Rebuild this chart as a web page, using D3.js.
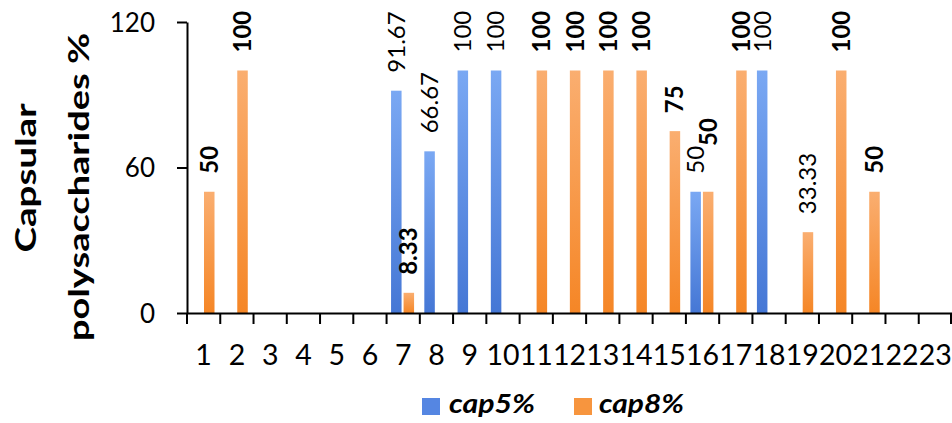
<!DOCTYPE html>
<html>
<head>
<meta charset="utf-8">
<script src="https://cdn.jsdelivr.net/npm/d3@7"></script>
<style>
  html, body { margin: 0; padding: 0; background: #fff; }
  svg { display: block; }
</style>
</head>
<body>
<svg id="chart" width="952" height="423"></svg>
<script>
// ---- data ----
const categories = ["1","2","3","4","5","6","7","8","9","10","11","12",
                    "13","14","15","16","17","18","19","20","21","22","23"];
const seriesNames = ["cap5%", "cap8%"];
const cap5 = [null, null, null, null, null, null, 91.67, 66.67, 100, 100, null, null,
              null, null, null, 50, null, 100, null, null, null, null, null];
const cap8 = [50, 100, null, null, null, null, 8.33, null, null, null, 100, 100,
              100, 100, 75, 50, 100, null, 33.33, 100, 50, null, null];
const yTicks = [0, 60, 120];
const yTitleLines = ["Capsular", "polysaccharides %"];

// ---- layout ----
const W = 952, H = 423;
const FONT = "Lato, 'Open Sans', sans-serif";
const svg = d3.select("#chart");

const x0 = d3.scaleBand().domain(categories).range([187, 952]).padding(0);
const bw = x0.bandwidth();
const x1 = d3.scaleBand().domain(seriesNames)
  .range([bw * 0.135, bw * 0.827]).paddingInner(0.16);
const y = d3.scaleLinear().domain([0, 120]).range([313, 22]);

// vertical gradient fills for the two series
const defs = svg.append("defs");
function addGradient(id, top, bottom) {
  const g = defs.append("linearGradient").attr("id", id)
    .attr("x1", 0).attr("y1", 0).attr("x2", 0).attr("y2", 1);
  g.append("stop").attr("offset", "0%").attr("stop-color", top);
  g.append("stop").attr("offset", "100%").attr("stop-color", bottom);
}
addGradient("fill-cap5", "#7AA8F3", "#4577D5");
addGradient("fill-cap8", "#FAAE70", "#F58626");
const fills = { "cap5%": "url(#fill-cap5)", "cap8%": "url(#fill-cap8)" };
const swatch = { "cap5%": "#5586E2", "cap8%": "#F7953E" };

const rows = categories.map((c, i) => ({
  cat: c,
  values: [
    { key: "cap5%", v: cap5[i], cat: c, idx: i },
    { key: "cap8%", v: cap8[i], cat: c, idx: i }
  ].filter(d => d.v !== null)
}));
const bars = rows.flatMap(r => r.values);

// ---- bars ----
svg.append("g").selectAll("rect").data(bars).join("rect")
  .attr("x", d => x0(d.cat) + x1(d.key))
  .attr("y", d => y(d.v))
  .attr("width", x1.bandwidth())
  .attr("height", d => y(0) - y(d.v))
  .attr("fill", d => fills[d.key]);

// ---- axes ----
const yAxis = svg.append("g").attr("transform", `translate(${x0.range()[0]},0)`)
  .call(d3.axisLeft(y).tickValues(yTicks).tickSize(10).tickSizeOuter(0).tickPadding(22));
yAxis.select(".domain").attr("stroke", "#000").attr("stroke-width", 2);
yAxis.selectAll(".tick line").attr("stroke", "#000").attr("stroke-width", 2);
yAxis.selectAll(".tick text")
  .attr("font-family", FONT).attr("font-size", 26).attr("fill", "#000")
  .attr("dy", "0.36em");

const xAxis = svg.append("g").attr("transform", `translate(0,${y(0)})`)
  .call(d3.axisBottom(x0).tickSize(0).tickSizeOuter(0).tickPadding(32));
xAxis.select(".domain").attr("stroke", "#000").attr("stroke-width", 2);
xAxis.selectAll(".tick text")
  .attr("font-family", FONT).attr("font-size", 28.5).attr("fill", "#000");

// tick marks on category boundaries
const bounds = categories.map(c => x0(c)).concat([Math.min(x0.range()[1], W - 1)]);
svg.append("g").selectAll("line").data(bounds).join("line")
  .attr("x1", d => d).attr("x2", d => d)
  .attr("y1", y(0)).attr("y2", y(0) + 11)
  .attr("stroke", "#000").attr("stroke-width", 2);

// ---- value labels ----
const LABEL_GAP = 18;
const LABEL_SIZE = 24;
const lightCap8 = new Set([33.33]);
const labels = svg.append("g").selectAll("text").data(bars).join("text")
  .attr("font-family", FONT).attr("font-size", LABEL_SIZE).attr("fill", "#000")
  .attr("font-weight", d => d.key === "cap8%" && !lightCap8.has(d.v) ? 700 : 400)
  .attr("dy", "0.35em")
  .text(d => String(d.v));

// place labels above bars, stacking any that would collide
const placed = [];
labels.each(function (d) {
  const cx = x0(d.cat) + x1(d.key) + x1.bandwidth() / 2;
  const len = this.getComputedTextLength();
  let start = y(d.v) - LABEL_GAP;
  let moved = true;
  while (moved) {
    moved = false;
    for (const p of placed) {
      const hOverlap = Math.abs(cx - p.cx) < 16;
      const vOverlap = start > p.start - p.len && start - len < p.start;
      if (hOverlap && vOverlap) { start = p.start - p.len; moved = true; }
    }
  }
  placed.push({ cx, start, len });
  d3.select(this).attr("transform", `translate(${cx},${start}) rotate(-90)`);
});

// ---- y axis title ----
const titleSpecs = [
  { text: yTitleLines[0], bx: 36, cy: 178, len: 149 },
  { text: yTitleLines[1], bx: 89, cy: 187, len: 308 }
];
svg.append("g").selectAll("text").data(titleSpecs).join("text")
  .attr("transform", d => `translate(${d.bx},${d.cy}) rotate(-90)`)
  .attr("text-anchor", "middle")
  .attr("font-family", FONT).attr("font-size", 29).attr("font-weight", 700)
  .attr("fill", "#000")
  .attr("textLength", d => d.len).attr("lengthAdjust", "spacingAndGlyphs")
  .text(d => d.text);

// ---- legend ----
const legendItems = [
  { key: seriesNames[0], sx: 422, tx: 449, len: 86 },
  { key: seriesNames[1], sx: 574, tx: 599, len: 85 }
];
const lg = svg.append("g");
lg.selectAll("rect").data(legendItems).join("rect")
  .attr("x", d => d.sx).attr("y", 398).attr("width", 18).attr("height", 17)
  .attr("fill", d => swatch[d.key]);
lg.selectAll("text").data(legendItems).join("text")
  .attr("x", d => d.tx).attr("y", 413)
  .attr("font-family", FONT).attr("font-size", 27).attr("font-style", "italic")
  .attr("font-weight", 700).attr("fill", "#000")
  .attr("textLength", d => d.len).attr("lengthAdjust", "spacingAndGlyphs")
  .text(d => d.key);
</script>
</body>
</html>
